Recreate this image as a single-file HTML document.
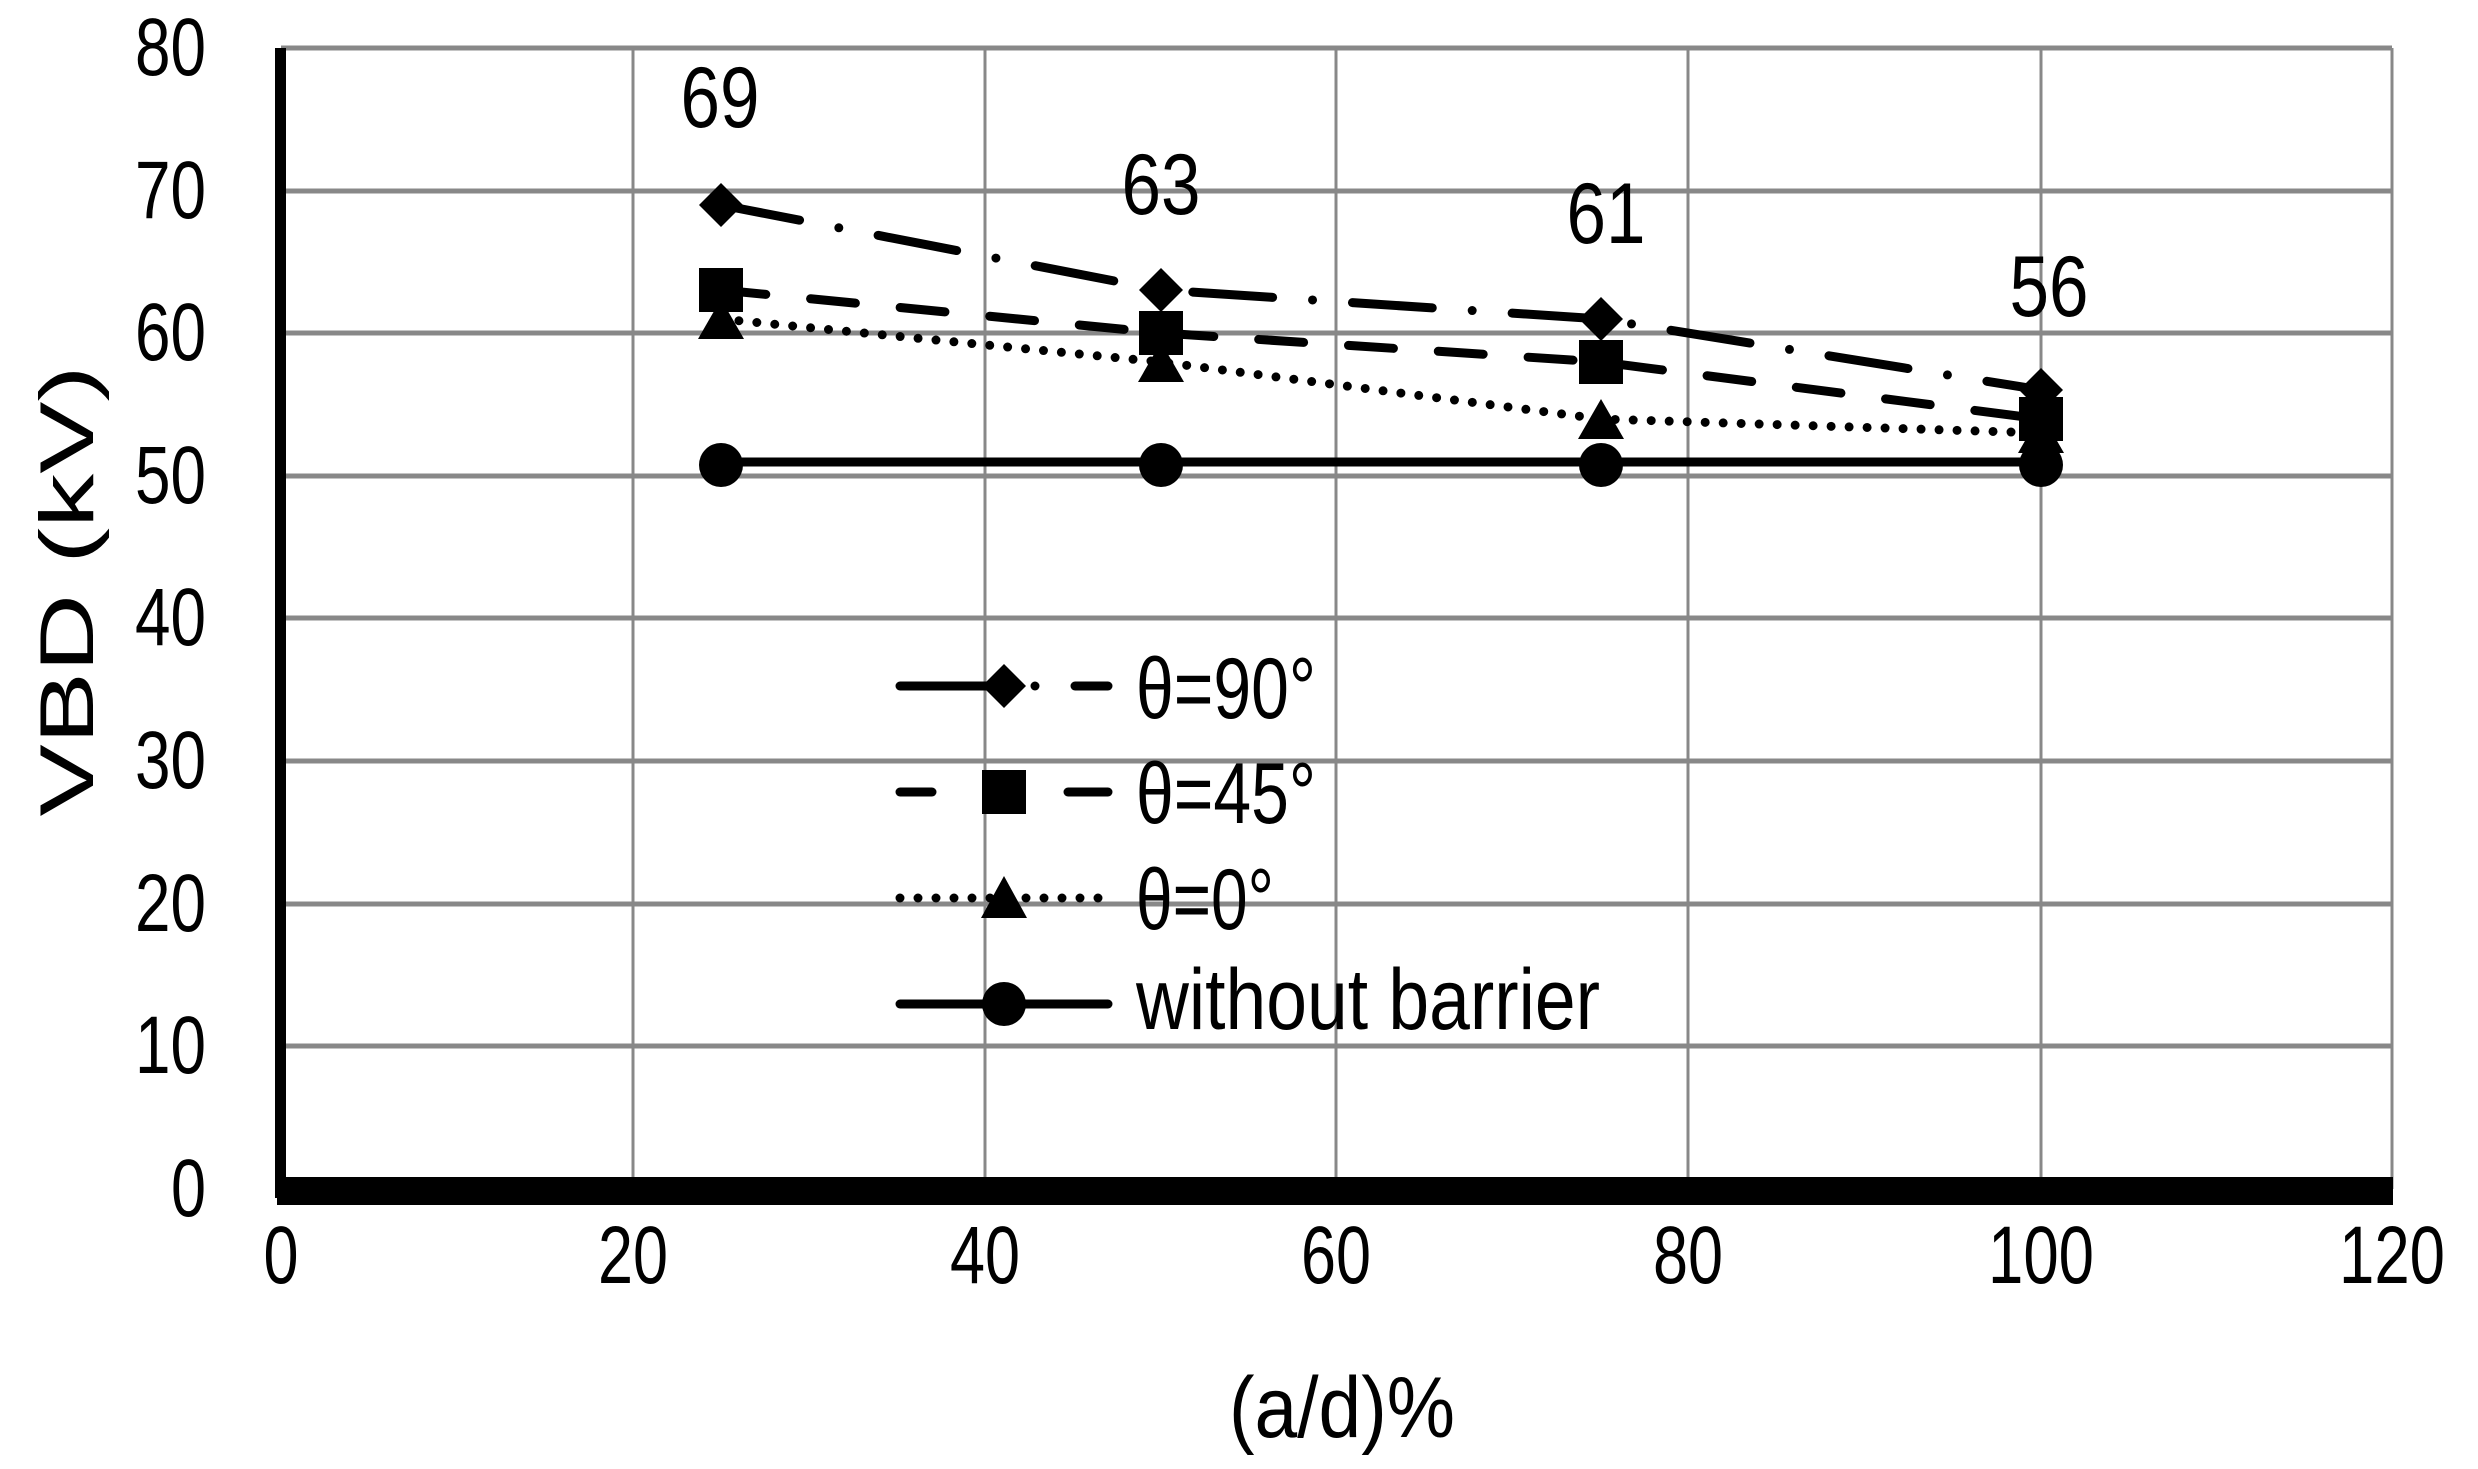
<!DOCTYPE html>
<html><head><meta charset="utf-8"><style>
html,body{margin:0;padding:0;background:#fff;}
svg{display:block;}
text{font-family:"Liberation Sans",sans-serif;fill:#000;}
</style></head><body>
<svg width="2478" height="1469" viewBox="0 0 2478 1469" xmlns="http://www.w3.org/2000/svg">
<rect width="2478" height="1469" fill="#fff"/>
<g stroke="#888" stroke-width="5">
<line x1="281" y1="48" x2="2392" y2="48"/>
<line x1="281" y1="191" x2="2392" y2="191"/>
<line x1="281" y1="333" x2="2392" y2="333"/>
<line x1="281" y1="476" x2="2392" y2="476"/>
<line x1="281" y1="618" x2="2392" y2="618"/>
<line x1="281" y1="761" x2="2392" y2="761"/>
<line x1="281" y1="904" x2="2392" y2="904"/>
<line x1="281" y1="1046" x2="2392" y2="1046"/>
</g>
<g stroke="#888" stroke-width="3">
<line x1="633" y1="48" x2="633" y2="1189"/>
<line x1="985" y1="48" x2="985" y2="1189"/>
<line x1="1336" y1="48" x2="1336" y2="1189"/>
<line x1="1688" y1="48" x2="1688" y2="1189"/>
<line x1="2041" y1="48" x2="2041" y2="1189"/>
<line x1="2392" y1="48" x2="2392" y2="1189"/>
</g>
<rect x="275" y="48" width="11" height="1150" fill="#000"/>
<rect x="277" y="1177" width="2116" height="28" fill="#000"/>

<g font-size="82" text-anchor="end">
<text x="206" y="75" textLength="71" lengthAdjust="spacingAndGlyphs">80</text>
<text x="206" y="218" textLength="71" lengthAdjust="spacingAndGlyphs">70</text>
<text x="206" y="360" textLength="71" lengthAdjust="spacingAndGlyphs">60</text>
<text x="206" y="503" textLength="71" lengthAdjust="spacingAndGlyphs">50</text>
<text x="206" y="645" textLength="71" lengthAdjust="spacingAndGlyphs">40</text>
<text x="206" y="788" textLength="71" lengthAdjust="spacingAndGlyphs">30</text>
<text x="206" y="931" textLength="71" lengthAdjust="spacingAndGlyphs">20</text>
<text x="206" y="1073" textLength="71" lengthAdjust="spacingAndGlyphs">10</text>
<text x="206" y="1216" textLength="35" lengthAdjust="spacingAndGlyphs">0</text>
</g>
<g font-size="82" text-anchor="middle">
<text x="281" y="1283" textLength="35" lengthAdjust="spacingAndGlyphs">0</text>
<text x="633" y="1283" textLength="70" lengthAdjust="spacingAndGlyphs">20</text>
<text x="985" y="1283" textLength="70" lengthAdjust="spacingAndGlyphs">40</text>
<text x="1336" y="1283" textLength="70" lengthAdjust="spacingAndGlyphs">60</text>
<text x="1688" y="1283" textLength="70" lengthAdjust="spacingAndGlyphs">80</text>
<text x="2041" y="1283" textLength="106" lengthAdjust="spacingAndGlyphs">100</text>
<text x="2392" y="1283" textLength="106" lengthAdjust="spacingAndGlyphs">120</text>
<text x="1342" y="1437" font-size="86" textLength="226" lengthAdjust="spacingAndGlyphs">(a/d)%</text>
<text x="720" y="127" font-size="86" textLength="79" lengthAdjust="spacingAndGlyphs">69</text>
<text x="1161" y="214" font-size="86" textLength="79" lengthAdjust="spacingAndGlyphs">63</text>
<text x="1606" y="243" font-size="86" textLength="79" lengthAdjust="spacingAndGlyphs">61</text>
<text x="2049" y="316" font-size="86" textLength="79" lengthAdjust="spacingAndGlyphs">56</text>
</g>
<text x="0" y="0" font-size="76" text-anchor="middle" textLength="451" lengthAdjust="spacingAndGlyphs" transform="translate(93,591) rotate(-90)">VBD (kV)</text>

<!-- series -->
<g fill="none" stroke="#000" stroke-width="9" stroke-linecap="round">
<polyline points="721,462 1161,462 1601,462 2041,462"/>
<polyline points="721,319 1161,362 1601,419 2041,433" stroke-dasharray="0 18"/>
<polyline points="721,290 1161,333 1601,362 2041,419" stroke-dasharray="45 45"/>
<polyline points="721,205 1161,290 1601,319 2041,390" stroke-dasharray="80 40 0 40"/>
</g>
<g fill="#000">
<circle cx="721" cy="465" r="22"/><circle cx="1161" cy="465" r="22"/><circle cx="1601" cy="465" r="22"/><circle cx="2041" cy="465" r="22"/>
<polygon points="721,299 744,339 698,339"/><polygon points="1161,342 1184,382 1138,382"/><polygon points="1601,399 1624,439 1578,439"/><polygon points="2041,413 2064,453 2018,453"/>
<rect x="699" y="268" width="44" height="44"/><rect x="1139" y="311" width="44" height="44"/><rect x="1579" y="340" width="44" height="44"/><rect x="2019" y="397" width="44" height="44"/>
<polygon points="721,183 743,205 721,227 699,205"/><polygon points="1161,268 1183,290 1161,312 1139,290"/><polygon points="1601,297 1623,319 1601,341 1579,319"/><polygon points="2041,368 2063,390 2041,412 2019,390"/>
</g>

<!-- legend -->
<g fill="none" stroke="#000" stroke-width="9" stroke-linecap="round">
<line x1="900" y1="686" x2="1000" y2="686"/><line x1="1035" y1="686" x2="1035" y2="686"/><line x1="1075" y1="686" x2="1108" y2="686"/>
<line x1="900" y1="792" x2="932" y2="792"/><line x1="1068" y1="792" x2="1108" y2="792"/>
<line x1="900" y1="898" x2="1108" y2="898" stroke-dasharray="0 18"/>
<line x1="900" y1="1004" x2="1108" y2="1004"/>
</g>
<g fill="#000">
<polygon points="1004,664 1026,686 1004,708 982,686"/>
<rect x="982" y="770" width="44" height="44"/>
<polygon points="1004,876 1027,918 981,918"/>
<circle cx="1004" cy="1004" r="22"/>
</g>
<g font-size="86">
<text x="1136" y="718" textLength="180" lengthAdjust="spacingAndGlyphs">θ=90°</text>
<text x="1136" y="823" textLength="180" lengthAdjust="spacingAndGlyphs">θ=45°</text>
<text x="1136" y="929" textLength="138" lengthAdjust="spacingAndGlyphs">θ=0°</text>
<text x="1136" y="1029" textLength="464" lengthAdjust="spacingAndGlyphs">without barrier</text>
</g>
</svg>
</body></html>
